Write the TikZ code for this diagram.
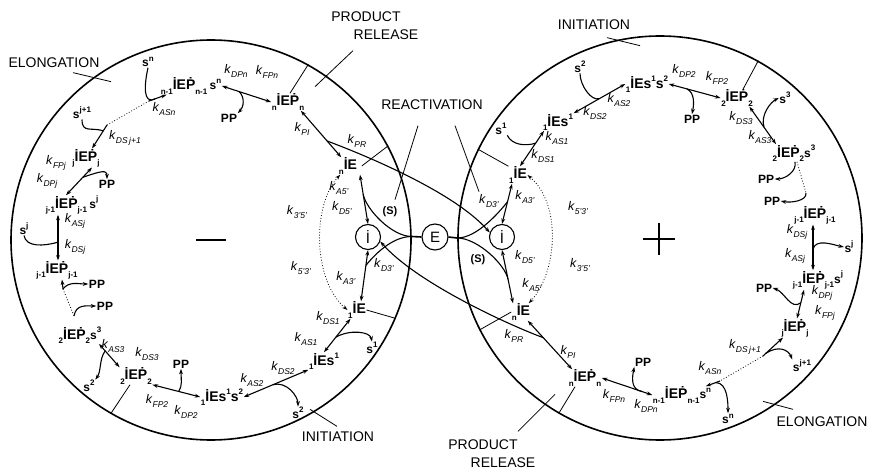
\documentclass[tikz,border=0pt]{standalone}
\usepackage{fontspec}
\setmainfont{Liberation Sans}
\usetikzlibrary{arrows.meta,calc}
\newcommand{\Id}{\iffontchar\font"0130\relax\char"0130\relax\else\accent"02D9 I\fi}
\newcommand{\Pd}{\iffontchar\font"1E56\relax\char"1E56\relax\else\accent"02D9 P\fi}
\newcommand{\lo}[1]{\raisebox{-0.55ex}{\fontsize{8}{8}\selectfont #1}}
\newcommand{\hi}[1]{\raisebox{0.9ex}{\fontsize{8}{8}\selectfont #1}}
\newcommand{\kk}[1]{\textit{k}\raisebox{-0.5ex}{\fontsize{8.5}{8.5}\selectfont\itshape #1}}
\newcommand{\sS}{{\fontsize{12}{12}\selectfont s}}
\tikzset{
  every node/.style={inner sep=0.5pt},
  hd/.tip={Stealth[length=5.5pt,width=3.8pt]},
  ln/.style={line width=1.1pt},
  bi/.style={ln,hd-hd},
  fw/.style={ln,-hd},
  dotline/.style={line width=0.8pt,dotted},
  tickline/.style={line width=0.8pt},
  sp/.style={font=\bfseries\fontsize{14}{14}\selectfont},
  sm/.style={font=\bfseries\fontsize{12}{12}\selectfont},
  kl/.style={font=\fontsize{12.5}{12.5}\selectfont},
  lbl/.style={font=\fontsize{14}{14}\selectfont},
  big/.style={circle,draw,line width=1.6pt,inner sep=0},
  ring/.style={circle,draw,line width=1.1pt,minimum size=25pt,inner sep=0,font=\fontsize{15}{15}\selectfont},
}
\begin{document}
\begin{tikzpicture}[x=1pt,y=-1pt]
\useasboundingbox (0,0) rectangle (876,473);
% big circles
\node[big,minimum size=400pt] (LC) at (211,240) {};
\node[big,minimum size=404pt] (RC) at (660,238) {};
\draw[line width=2.6pt] (196,240) -- (226,240);
\draw[line width=2.6pt] (643,239) -- (675,239) (659,223) -- (659,255);
% region labels
\node[lbl] (elL) at (54,63) {ELONGATION};
\node[lbl] (prT1) at (366,17) {PRODUCT};
\node[lbl] (prT2) at (386,35) {RELEASE};
\node[lbl] (react) at (432,105) {REACTIVATION};
\node[lbl] (initL) at (338,437) {INITIATION};
\node[lbl] (initR) at (594,25) {INITIATION};
\node[lbl] (elR) at (822,422) {ELONGATION};
\node[lbl] (prB1) at (483,445) {PRODUCT};
\node[lbl] (prB2) at (503,463) {RELEASE};
% centre
\node[ring] (Li) at (368,237) {\Id};
\node[ring,minimum size=26pt] (E) at (435,237) {E};
\node[ring] (Ri) at (502,237) {\Id};
% left species
\node[sm] (LsN) at (148,62) {s\hi{n}};
\node[sp] (LEPn1) at (191,86) {\lo{n-1}\Id E\Pd\lo{n-1}\,\sS\hi{n}};
\node[sp] (LEPn) at (288,102) {\lo{n}\Id E\Pd\lo{n}};
\node[sm] (LPPn) at (229,118) {PP};
\node[sm] (Lsj1) at (82,113) {s\hi{j+1}};
\node[sp] (LEPj) at (86,158) {\lo{j}\Id E\Pd\lo{j}};
\node[sm] (LPPj) at (107,184) {PP};
\node[sp] (LEPj1) at (72,205) {\lo{j-1}\Id E\Pd\lo{j-1}\,\sS\hi{j}};
\node[sm] (Lsj) at (24,229) {s\hi{j}};
\node[sp] (LEPj1b) at (57,270) {\lo{j-1}\Id E\Pd\lo{j-1}};
\node[sm] (LPPa) at (97,284) {PP};
\node[sm] (LPPb) at (105,306) {PP};
\node[sp] (LEP2s3) at (80,335) {\lo{2}\Id E\Pd\lo{2}\sS\hi{3}};
\node[sm] (Ls2a) at (89,386) {s\hi{2}};
\node[sp] (LEP2) at (136,376) {\lo{2}\Id E\Pd\lo{2}};
\node[sm] (LPP2) at (181,364) {PP};
\node[sp] (LEs1s2) at (222,397) {\lo{1}\Id Es\hi{1}s\hi{2}};
\node[sm] (Ls2) at (298,413) {s\hi{2}};
\node[sp] (LEs1) at (324,361) {\lo{1}\Id Es\hi{1}};
\node[sm] (Ls1) at (372,348) {s\hi{1}};
\node[sp] (LE1) at (357,310) {\lo{1}\Id E};
\node[sp] (LEn) at (348,166) {\lo{n}\Id E};
% right species
\node[sm] (Rs2) at (580,67) {s\hi{2}};
\node[sp] (REs1s2) at (647,84) {\lo{1}\Id Es\hi{1}s\hi{2}};
\node[sp] (REs1) at (558,122) {\lo{1}\Id Es\hi{1}};
\node[sm] (Rs1) at (501,129) {s\hi{1}};
\node[sp] (RE1) at (518,175) {\lo{1}\Id E};
\node[sp] (REP2) at (737,98) {\lo{2}\Id E\Pd\lo{2}};
\node[sm] (RPP2) at (692,119) {PP};
\node[sm] (Rs3) at (785,98) {s\hi{3}};
\node[sp] (REP2s3) at (794,153) {\lo{2}\Id E\Pd\lo{2}\sS\hi{3}};
\node[sm] (RPPa) at (766,179) {PP};
\node[sm] (RPPb) at (772,201) {PP};
\node[sp] (REPj1) at (815,215) {\lo{j-1}\Id E\Pd\lo{j-1}};
\node[sm] (Rsj) at (849,247) {s\hi{j}};
\node[sp] (REPj1b) at (818,280) {\lo{j-1}\Id E\Pd\lo{j-1}\sS\hi{j}};
\node[sm] (RPPj) at (764,288) {PP};
\node[sp] (REPj) at (795,328) {\lo{j}\Id E\Pd\lo{j}};
\node[sm] (Rsj1) at (802,366) {s\hi{j+1}};
\node[sp] (REPn1) at (682,395) {\lo{n-1}\Id E\Pd\lo{n-1}\sS\hi{n}};
\node[sm] (RsN) at (728,419) {s\hi{n}};
\node[sm] (RPPn) at (643,362) {PP};
\node[sp] (REPn) at (585,378) {\lo{n}\Id E\Pd\lo{n}};
\node[sp] (REn) at (521,312) {\lo{n}\Id E};
% left rate labels
\node[kl] (kL1) at (164,109) {\kk{ASn}};
\node[kl] (kL2) at (125,138) {\kk{DS\,j+1}};
\node[kl] (kL3) at (56,163) {\kk{FPj}};
\node[kl] (kL4) at (47,181) {\kk{DPj}};
\node[kl] (kL5) at (75,221) {\kk{ASj}};
\node[kl] (kL6) at (75,247) {\kk{DSj}};
\node[kl] (kL7) at (113,346) {\kk{AS3}};
\node[kl] (kL8) at (147,354) {\kk{DS3}};
\node[kl] (kL9) at (157,401) {\kk{FP2}};
\node[kl] (kL10) at (186,412) {\kk{DP2}};
\node[kl] (kL11) at (252,380) {\kk{AS2}};
\node[kl] (kL12) at (283,368) {\kk{DS2}};
\node[kl] (kL13) at (306,339) {\kk{AS1}};
\node[kl] (kL14) at (328,318) {\kk{DS1}};
\node[kl] (kL15) at (346,278) {\kk{A3'}};
\node[kl] (kL16) at (384,265) {\kk{D3'}};
\node[kl] (kL17) at (301,268) {\kk{5'3'}};
\node[kl] (kL18) at (297,212) {\kk{3'5'}};
\node[kl] (kL19) at (339,188) {\kk{A5'}};
\node[kl] (kL20) at (342,208) {\kk{D5'}};
\node[kl] (kL21) at (302,129) {\kk{PI}};
\node[kl] (kL22) at (357,141) {\kk{PR}};
\node[kl] (kL23) at (236,71) {\kk{DPn}};
\node[kl] (kL24) at (267,72) {\kk{FPn}};
\node[font=\bfseries\fontsize{11}{11}\selectfont] (SL) at (390,212) {(S)};
% right rate labels
\node[kl] (kR1) at (619,100) {\kk{AS2}};
\node[kl] (kR2) at (595,113) {\kk{DS2}};
\node[kl] (kR3) at (557,138) {\kk{AS1}};
\node[kl] (kR4) at (543,156) {\kk{DS1}};
\node[kl] (kR5) at (525,197) {\kk{A3'}};
\node[kl] (kR6) at (489,201) {\kk{D3'}};
\node[kl] (kR7) at (578,208) {\kk{5'3'}};
\node[kl] (kR8) at (580,265) {\kk{3'5'}};
\node[kl] (kR9) at (525,257) {\kk{D5'}};
\node[kl] (kR10) at (532,285) {\kk{A5'}};
\node[font=\bfseries\fontsize{11}{11}\selectfont] (SR) at (478,260) {(S)};
\node[kl] (kR11) at (514,336) {\kk{PR}};
\node[kl] (kR12) at (568,352) {\kk{PI}};
\node[kl] (kR13) at (614,396) {\kk{FPn}};
\node[kl] (kR14) at (646,406) {\kk{DPn}};
\node[kl] (kR15) at (710,368) {\kk{ASn}};
\node[kl] (kR16) at (745,347) {\kk{DS\,j+1}};
\node[kl] (kR17) at (825,313) {\kk{FPj}};
\node[kl] (kR18) at (822,293) {\kk{DPj}};
\node[kl] (kR19) at (795,256) {\kk{ASj}};
\node[kl] (kR20) at (797,232) {\kk{DSj}};
\node[kl] (kR21) at (760,137) {\kk{AS3}};
\node[kl] (kR22) at (741,118) {\kk{DS3}};
\node[kl] (kR23) at (684,71) {\kk{DP2}};
\node[kl] (kR24) at (717,78) {\kk{FP2}};
% ---------- left connectors
\coordinate (Ld1) at (107,125);
\coordinate (Ld2) at (149,101);
\draw[fw] (Ld1) -- coordinate[pos=0.25] (Lm2) (LEPj);
\draw[dotline] (Ld1) -- (Ld2);
\draw[fw] (Ld2) -- coordinate[pos=0.35] (Lm1) (LEPn1);
\draw[ln] (LsN.south) .. controls +(-4,18) and +(-12,6) .. (Lm1);
\draw[ln] (Lsj1.south) .. controls +(0,14) and +(-12,-4) .. (Lm2);
\draw[bi] (LEPn1.east) -- coordinate[pos=0.35] (Lm12) (LEPn.west);
\draw[fw] (Lm12) .. controls +(6,6) and +(6,-6) .. (LPPn.north east);
\draw[bi] ([xshift=6pt]LEPj.south) -- coordinate[pos=0.35] (Lm3) ([xshift=-6pt]LEPj1.north);
\draw[fw] (Lm3) .. controls +(18,-6) and +(0,-10) .. (LPPj.north);
\draw[bi] ([xshift=-14pt]LEPj1.south) -- coordinate[pos=0.6] (Lm4) ([xshift=1pt]LEPj1b.north);
\draw[ln] (Lsj.south) .. controls +(2,12) and +(-14,4) .. (Lm4);
\coordinate (Ld3) at (63,289);
\coordinate (Ld4) at (74,316);
\draw[fw] (Ld3) -- ([xshift=5pt]LEPj1b.south);
\draw[fw] (Ld3) .. controls +(6,-8) and +(-10,0) .. (LPPa.west);
\draw[dotline] (Ld3) -- (Ld4);
\draw[fw] (Ld4) .. controls +(2,-12) and +(-10,0) .. (LPPb.west);
\draw[bi] ([xshift=-3pt]LEP2s3.south east) -- coordinate[pos=0.3] (Lm5) (LEP2.north west);
\draw[fw] (Lm5) .. controls +(-6,8) and +(6,-8) .. (Ls2a.north east);
\draw[bi] (LEP2.south east) -- coordinate[pos=0.55] (Lm6) (LEs1s2.west);
\draw[fw] (Lm6) .. controls +(4,-6) and +(0,10) .. (LPP2.south);
\draw[bi] (LEs1s2.east) -- coordinate[pos=0.45] (Lm7) (LEs1.south west);
\draw[fw] (Lm7) .. controls +(14,-4) and +(0,-10) .. (Ls2.north);
\draw[bi] (LEs1.north) -- coordinate[pos=0.45] (Lm8) ([xshift=3pt]LE1.south west);
\draw[fw] (Lm8) .. controls +(14,-8) and +(-2,-10) .. (Ls1.north);
\draw[bi] ([xshift=4pt]LE1.north) -- coordinate[pos=0.7] (Lm9) (Li.south);
\draw[bi] ([xshift=12pt]LEn.south) -- coordinate[pos=0.4] (Lm10) (Li.north);
\draw[bi] ([xshift=-4pt]LEPn.south east) -- coordinate[pos=0.65] (Lm11) ([xshift=3pt]LEn.north west);
\draw[fw] (Lm11) .. controls +(40,15) and +(-35,-40) .. (Ri.160);
\draw[dotline,hd-hd] ([xshift=2pt]LEn.south west) .. controls +(-28,30) and +(-35,-30) .. (LE1.west);
% ---------- right connectors
\draw[bi] ([xshift=-6pt]RE1.south) -- coordinate[pos=0.45] (Rm9) (Ri.north);
\draw[bi] (Ri.south) -- coordinate[pos=0.55] (Rm10) ([xshift=-8pt]REn.north);
\draw[bi] ([xshift=2pt]RE1.north) -- coordinate[pos=0.65] (Rm8) ([xshift=-14pt]REs1.south);
\draw[ln] (Rs1.south east) .. controls +(5,10) and +(-10,3) .. (Rm8);
\draw[bi] (REs1.north east) -- coordinate[pos=0.5] (Rm7) (REs1s2.west);
\draw[ln] (Rs2.south) .. controls +(0,12) and +(-8,3) .. (Rm7);
\draw[bi] (REs1s2.east) -- coordinate[pos=0.35] (Rm6) (REP2.west);
\draw[fw] (Rm6) .. controls +(8,4) and +(2,-10) .. (RPP2.north);
\draw[bi] ([xshift=-4pt]REP2.south east) -- coordinate[pos=0.55] (Rm5) ([xshift=4pt]REP2s3.north west);
\draw[fw] (Rm5) .. controls +(-4,-12) and +(-8,4) .. (Rs3.west);
\coordinate (Rd2) at (806,193);
\draw[fw] ([xshift=1pt]REP2s3.south) .. controls +(2,10) and +(10,0) .. (RPPa.east);
\draw[dotline] ([xshift=3pt]REP2s3.south) -- (Rd2);
\draw[fw] (Rd2) .. controls +(1,8) and +(10,2) .. (RPPb.east);
\draw[bi] ([xshift=-2pt]REPj1.south) -- coordinate[pos=0.55] (Rm4) ([xshift=-5pt]REPj1b.north);
\draw[fw] (Rm4) .. controls +(2,-12) and +(-10,-2) .. (Rsj.west);
\draw[bi] ([xshift=-14pt]REPj1b.south) -- coordinate[pos=0.45] (Rm3) ([xshift=2pt]REPj.north);
\draw[fw] (Rm3) .. controls +(-10,8) and +(12,4) .. (RPPj.east);
\coordinate (Rd3) at (763,356);
\coordinate (Rd4) at (720,381);
\draw[fw] (Rd3) -- coordinate[pos=0.15] (Rm2) ([xshift=-12pt]REPj.south);
\draw[fw] (Rm2) .. controls +(12,-8) and +(-4,-10) .. (Rsj1.north west);
\draw[dotline] (Rd3) -- (Rd4);
\draw[fw] (Rd4) -- coordinate[pos=0.3] (Rm1) ([xshift=-6pt]REPn1.north east);
\draw[fw] (Rm1) .. controls +(12,0) and +(0,-10) .. (RsN.north);
\draw[bi] (REPn1.west) -- coordinate[pos=0.2] (Rm12) (REPn.east);
\draw[fw] (Rm12) .. controls +(-12,-2) and +(-2,10) .. (RPPn.south west);
\draw[bi] ([xshift=-3pt]REn.south east) -- coordinate[pos=0.35] (Rm11) ([xshift=4pt]REPn.north west);
\draw[fw] (Rm11) .. controls +(-40,-15) and +(35,40) .. (Li.-20);
\draw[dotline,hd-hd] (RE1.east) .. controls +(35,30) and +(28,-30) .. ([xshift=-2pt]REn.north east);
% ---------- E connections
\draw[line width=1.6pt] (E.west) -- (LC.1);
\draw[line width=1.6pt] (E.east) -- (RC.west);
\draw[ln] (LC.1) .. controls +(-20,0) and +(3,15) .. (Lm10);
\draw[ln] (LC.1) .. controls +(-20,0) and +(8,-10) .. (Lm9);
\draw[ln] (RC.west) .. controls +(20,0) and +(-3,-15) .. (Rm10);
\draw[ln] (RC.west) .. controls +(20,0) and +(-8,10) .. (Rm9);
% ---------- boundary ticks
\draw[tickline] ([xshift=2pt]LEPn.north) -- (LC.61);
\draw[tickline] (LE1.east) -- (LC.-23);
\draw[tickline] ([xshift=-6pt]LEP2.south) -- (LC.-120);
\draw[tickline] ([xshift=4pt]LEn.east) -- (LC.28);
\draw[tickline] (RE1.north west) -- (RC.154);
\draw[tickline] ([xshift=6pt]REP2.north) -- (RC.61);
\draw[tickline] ([xshift=-10pt]REPn.south) -- (RC.-120);
\draw[tickline] (REn.west) -- (RC.207);
% ---------- label pointers
\draw[tickline] ([xshift=19pt,yshift=-4pt]elL.south) -- ++(38,9);
\draw[tickline] ([xshift=-33pt,yshift=-10pt]prT2.south) -- ++(-38,36);
\draw[tickline] ([xshift=-14pt,yshift=-15pt]react.south) -- ++(-23,74);
\draw[tickline] ([xshift=23pt,yshift=-15pt]react.south) -- ++(24,66);
\draw[tickline] ([xshift=-1pt,yshift=5pt]initL.north) -- ++(-27,-17);
\draw[tickline] ([xshift=13pt,yshift=-7pt]initR.south) -- ++(33,8);
\draw[tickline] ([xshift=-29pt,yshift=7pt]elR.north) -- ++(-30,-8);
\draw[tickline] ([xshift=35pt,yshift=8pt]prB1.north) -- ++(37,-37);
\end{tikzpicture}
\end{document}
